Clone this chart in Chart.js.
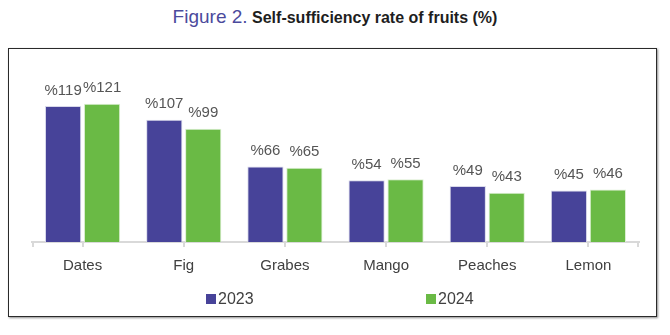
<!DOCTYPE html>
<html>
<head>
<meta charset="utf-8">
<script src="https://cdn.jsdelivr.net/npm/chart.js@4"></script>
<style>
  body { margin: 0; background: #fff; font-family: "Liberation Sans", Arial, sans-serif; }
  #wrap { position: relative; width: 670px; height: 335px; overflow: hidden; }
  #title { position: absolute; left: 0; width: 670px; top: 6px; text-align: center; white-space: nowrap; }
  #title .fig { color: #4b4a9c; font-size: 19px; }
  #title .txt { color: #1e1e1e; font-size: 16px; font-weight: bold; }
  #box { position: absolute; left: 8px; top: 48px; width: 647px; height: 267px;
         border: 1.5px solid #2a2a2a; box-shadow: 1px 1px 2px rgba(0,0,0,0.45); }
  canvas { position: absolute; left: 0; top: 0; }
</style>
</head>
<body>
<div id="wrap">
  <div id="title"><span class="fig">Figure 2.</span> <span class="txt">Self-sufficiency rate of fruits (%)</span></div>
  <div id="box"></div>
  <canvas id="myChart" width="670" height="335"></canvas>
</div>
<script>
const fruits = ['Dates', 'Fig', 'Grabes', 'Mango', 'Peaches', 'Lemon'];
const rate2023 = [119, 107, 66, 54, 49, 45];
const rate2024 = [121, 99, 65, 55, 43, 46];

const FONT = '"Liberation Sans", Arial, sans-serif';

// writes "%value" above each bar
const valueLabels = {
    id: 'valueLabels',
    afterDatasetsDraw(chart) {
        const ctx = chart.ctx;
        ctx.save();
        ctx.font = '15px ' + FONT;
        ctx.fillStyle = '#555';
        ctx.textAlign = 'center';
        ctx.textBaseline = 'bottom';
        chart.data.datasets.forEach((ds, i) => {
            chart.getDatasetMeta(i).data.forEach((bar, j) => {
                ctx.fillText('%' + ds.data[j], bar.x, bar.y - 8);
            });
        });
        ctx.restore();
    }
};

// legend with wide spacing between the two years
const spreadLegend = {
    id: 'spreadLegend',
    afterDraw(chart) {
        const ctx = chart.ctx;
        const xs = [206, 426];
        const y = 299;
        ctx.save();
        ctx.font = '16px ' + FONT;
        ctx.textBaseline = 'middle';
        chart.data.datasets.forEach((ds, i) => {
            ctx.fillStyle = ds.backgroundColor;
            ctx.fillRect(xs[i], y - 5, 10, 10);
            ctx.fillStyle = '#404040';
            ctx.fillText(ds.label, xs[i] + 12, y + 1);
        });
        ctx.restore();
    }
};

// small ticks at both ends of the category axis
const axisEnds = {
    id: 'axisEnds',
    afterDraw(chart) {
        const ctx = chart.ctx;
        const a = chart.chartArea;
        ctx.save();
        ctx.strokeStyle = '#d9d9d9';
        ctx.lineWidth = 2;
        ctx.beginPath();
        [a.left + 1, a.right - 1].forEach(x => {
            ctx.moveTo(x, a.bottom);
            ctx.lineTo(x, a.bottom + 5);
        });
        ctx.stroke();
        ctx.restore();
    }
};

const ctx = document.getElementById('myChart').getContext('2d');
const myChart = new Chart(ctx, {
    type: 'bar',
    data: {
        labels: fruits,
        datasets: [
            {
                label: '2023',
                data: rate2023,
                backgroundColor: '#474399',
                borderColor: '#d8d8ea',
                borderWidth: 1
            },
            {
                label: '2024',
                data: rate2024,
                backgroundColor: '#6aba45',
                borderColor: '#dbeed2',
                borderWidth: 1
            }
        ]
    },
    options: {
        responsive: false,
        animation: false,
        layout: { padding: { left: 32, right: 31, top: 82, bottom: 50 } },
        categoryPercentage: 0.77,
        barPercentage: 0.93,
        scales: {
            x: {
                grid: { offset: false, drawOnChartArea: false, tickLength: 5, color: '#d9d9d9', lineWidth: 2 },
                border: { color: '#d9d9d9', width: 2 },
                ticks: { color: '#404040', font: { size: 15, family: FONT }, padding: 10 }
            },
            y: { display: false, min: 0, max: 140 }
        },
        plugins: {
            legend: { display: false },
            tooltip: { enabled: false }
        }
    },
    plugins: [valueLabels, axisEnds, spreadLegend]
});
</script>
</body>
</html>
